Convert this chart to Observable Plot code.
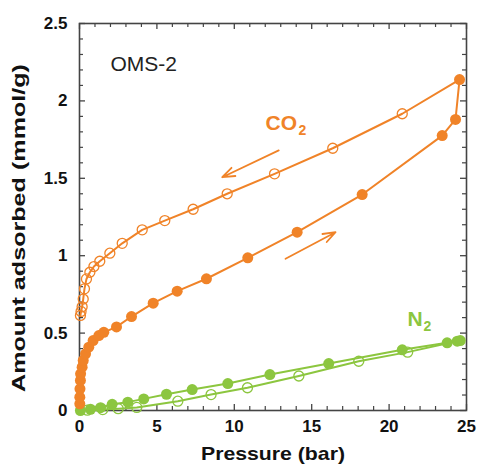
<!DOCTYPE html>
<html><head><meta charset="utf-8">
<script src="https://cdn.jsdelivr.net/npm/d3@7"></script>
<script src="https://cdn.jsdelivr.net/npm/@observablehq/plot@0.6"></script>
<style>body{margin:0;background:#fff}</style>
</head><body><div id="chart"></div>
<script>
// CO2 adsorption (filled) and desorption (open), pressure in bar, amount in mmol/g
const co2AdsP = [0.02,0.02,0.03,0.06,0.07,0.17,0.24,0.39,0.6,0.88,1.25,1.57,2.39,3.36,4.76,6.31,8.2,10.87,14.06,18.26,23.43,24.29,24.55];
const co2AdsQ = [0.043,0.086,0.14,0.194,0.237,0.28,0.323,0.366,0.409,0.452,0.484,0.505,0.54,0.607,0.693,0.771,0.851,0.986,1.152,1.395,1.776,1.88,2.138];
const co2DesP = [20.85,16.36,12.6,9.54,7.34,5.51,4.05,2.76,1.96,1.31,0.93,0.67,0.45,0.32,0.24,0.17,0.1,0.06];
const co2DesQ = [1.917,1.694,1.529,1.40,1.30,1.227,1.167,1.08,1.016,0.964,0.93,0.893,0.85,0.786,0.72,0.67,0.64,0.614];
// N2 adsorption (filled) and desorption (open)
const n2AdsP = [0.06,0.71,1.36,2.11,3.12,4.15,5.62,7.28,9.58,12.3,16.1,20.85,23.75,24.4,24.6];
const n2AdsQ = [0.0,0.008,0.018,0.04,0.054,0.075,0.105,0.135,0.174,0.232,0.303,0.392,0.437,0.448,0.452];
const n2DesP = [21.2,18.04,14.17,10.85,8.5,6.35,3.7,2.5,1.5,0.5];
const n2DesQ = [0.377,0.318,0.223,0.147,0.103,0.06,0.02,0.012,0.006,0.002];
// axis ticks
const xMajor = [0,5,10,15,20,25];
const yMajor = [0,0.5,1,1.5,2,2.5];
const xMinor = [1,2,3,4,6,7,8,9,11,12,13,14,16,17,18,19,21,22,23,24];
const yMinor = [0.1,0.2,0.3,0.4,0.6,0.7,0.8,0.9,1.1,1.2,1.3,1.4,1.6,1.7,1.8,1.9,2.1,2.2,2.3,2.4];
// annotations
const labels = [
  {x: 2.0, y: 2.196, text: "OMS-2", color: "#222"},
];
const arrows = [
  {x1: 12.87, y1: 1.68, x2: 9.22, y2: 1.507},
  {x1: 13.31, y1: 0.98, x2: 16.54, y2: 1.152}
];

const orange = "#f08328", green = "#8cc63f", axisCol = "#444";
const zip = (P, Q) => P.map((p, i) => ({p, q: Q[i]}));
const co2Ads = zip(co2AdsP, co2AdsQ), co2Des = zip(co2DesP, co2DesQ);
const n2Ads = zip(n2AdsP, n2AdsQ), n2Des = zip(n2DesP, n2DesQ);
const co2DesLine = [co2Ads[co2Ads.length - 1], ...co2Des];
const n2DesLine = [n2Ads[n2Ads.length - 1], ...n2Des];
const font = "Liberation Sans, Arial, Helvetica, sans-serif";
const inner = 387;

const chart = Plot.plot({
  width: 477, height: 470,
  marginLeft: 79, marginRight: 11, marginTop: 23, marginBottom: 60,
  style: {fontFamily: font, background: "#fff", color: "#111"},
  x: {domain: [0, 25]},
  y: {domain: [0, 2.5]},
  marks: [
    Plot.axisX(xMajor, {tickSize: 0, tickPadding: 9, fontSize: 17, fontWeight: "bold", label: null, tickFormat: d => String(d)}),
    Plot.axisY(yMajor, {tickSize: 0, tickPadding: 12, fontSize: 17, fontWeight: "bold", label: null, tickFormat: d => String(d)}),
    Plot.tickX(xMajor, {x: d => d, insetTop: inner - 6, stroke: axisCol, strokeWidth: 1.3}),
    Plot.tickX(xMajor, {x: d => d, insetBottom: inner - 6, stroke: axisCol, strokeWidth: 1.3}),
    Plot.tickX(xMinor, {x: d => d, insetTop: inner - 4, stroke: axisCol, strokeWidth: 1.2}),
    Plot.tickX(xMinor, {x: d => d, insetBottom: inner - 4, stroke: axisCol, strokeWidth: 1.2}),
    Plot.tickY(yMajor, {y: d => d, insetRight: inner - 6, stroke: axisCol, strokeWidth: 1.3}),
    Plot.tickY(yMajor, {y: d => d, insetLeft: inner - 6, stroke: axisCol, strokeWidth: 1.3}),
    Plot.tickY(yMinor, {y: d => d, insetRight: inner - 4, stroke: axisCol, strokeWidth: 1.2}),
    Plot.tickY(yMinor, {y: d => d, insetLeft: inner - 4, stroke: axisCol, strokeWidth: 1.2}),
    Plot.frame({stroke: axisCol, strokeWidth: 1.6}),
    Plot.line(n2DesLine, {x: "p", y: "q", stroke: green, strokeWidth: 2}),
    Plot.line(n2Ads, {x: "p", y: "q", stroke: green, strokeWidth: 2}),
    Plot.dot(n2Des, {x: "p", y: "q", r: 5, stroke: green, strokeWidth: 1.3, fill: "none"}),
    Plot.dot(n2Ads, {x: "p", y: "q", r: 5.5, fill: green, stroke: "none"}),
    Plot.line(co2DesLine, {x: "p", y: "q", stroke: orange, strokeWidth: 2}),
    Plot.line(co2Ads, {x: "p", y: "q", stroke: orange, strokeWidth: 2}),
    Plot.dot(co2Des, {x: "p", y: "q", r: 5, stroke: orange, strokeWidth: 1.3, fill: "none"}),
    Plot.dot(co2Ads, {x: "p", y: "q", r: 5.5, fill: orange, stroke: "none"}),
    Plot.arrow(arrows, {x1: "x1", y1: "y1", x2: "x2", y2: "y2", stroke: orange, strokeWidth: 1.8, headLength: 11, headAngle: 40}),
    Plot.text(labels, {x: "x", y: "y", text: "text", fill: "color", fontSize: 21, textAnchor: "start", lineAnchor: "bottom"}),
    Plot.text(["CO"], {x: 12.02, y: 1.809, text: d => d, fill: orange, fontSize: 21, fontWeight: "bold", textAnchor: "start", lineAnchor: "bottom"}),
    Plot.text(["2"], {x: 12.02, y: 1.809, text: d => d, fill: orange, fontSize: 14, fontWeight: "bold", textAnchor: "start", lineAnchor: "bottom", dx: 33, dy: 5}),
    Plot.text(["N"], {x: 21.19, y: 0.549, text: d => d, fill: green, fontSize: 21, fontWeight: "bold", textAnchor: "start", lineAnchor: "bottom"}),
    Plot.text(["2"], {x: 21.19, y: 0.549, text: d => d, fill: green, fontSize: 14, fontWeight: "bold", textAnchor: "start", lineAnchor: "bottom", dx: 16, dy: 5}),
    Plot.text(["Pressure (bar)"], {frameAnchor: "bottom", text: d => d, dy: 49, fontSize: 19, fontWeight: "bold", fill: "#111", textAnchor: "middle"}),
    Plot.text(["Amount adsorbed (mmol/g)"], {frameAnchor: "left", text: d => d, dx: -61, dy: 11, rotate: -90, fontSize: 19, fontWeight: "bold", fill: "#111", textAnchor: "middle", lineAnchor: "middle"})
  ]
});
document.getElementById("chart").appendChild(chart);
chart.querySelectorAll("text").forEach(t => {
  if (t.textContent === "Pressure (bar)") { t.setAttribute("textLength", 144); t.setAttribute("lengthAdjust", "spacingAndGlyphs"); }
  if (t.textContent === "Amount adsorbed (mmol/g)") { t.setAttribute("textLength", 328); t.setAttribute("lengthAdjust", "spacingAndGlyphs"); }
});
</script>
</body></html>
